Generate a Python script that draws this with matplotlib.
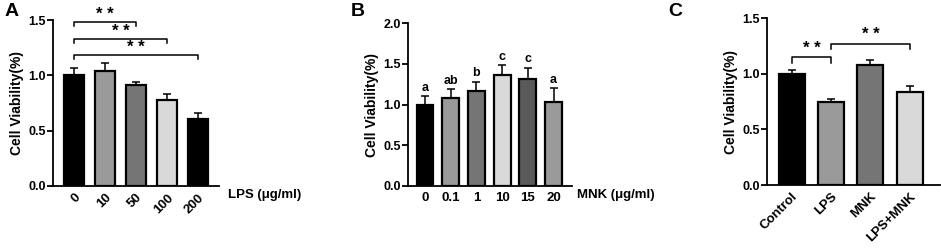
import matplotlib.pyplot as plt

plt.rcParams['font.family'] = ['Liberation Sans', 'DejaVu Sans']
plt.rcParams['font.weight'] = 'bold'

# Panel A: LPS dose
a_labels = ['0', '10', '50', '100', '200']
a_means = [1.00, 1.04, 0.91, 0.78, 0.61]
a_errs = [0.07, 0.07, 0.03, 0.05, 0.05]
a_colors = ['#000000', '#9a9a9a', '#757575', '#d9d9d9', '#000000']

# Panel B: MNK dose
b_labels = ['0', '0.1', '1', '10', '15', '20']
b_means = [1.00, 1.08, 1.17, 1.36, 1.31, 1.03]
b_errs = [0.10, 0.11, 0.11, 0.12, 0.14, 0.17]
b_letters = ['a', 'ab', 'b', 'c', 'c', 'a']
b_colors = ['#000000', '#9a9a9a', '#757575', '#d9d9d9', '#5a5a5a', '#9a9a9a']

# Panel C: treatments
c_labels = ['Control', 'LPS', 'MNK', 'LPS+MNK']
c_means = [1.00, 0.75, 1.08, 0.84]
c_errs = [0.03, 0.02, 0.04, 0.05]
c_colors = ['#000000', '#9a9a9a', '#757575', '#d9d9d9']

fig = plt.figure(figsize=(9.41, 2.48), dpi=100)


def bars(ax, means, errs, colors, width):
    x = list(range(len(means)))
    ax.bar(x, means, width=width, color=colors, edgecolor='black', linewidth=1.6, zorder=2)
    ax.errorbar(x, means, yerr=[[0] * len(errs), errs], fmt='none', ecolor='black',
                elinewidth=1.1, capsize=3.2, capthick=1.1, zorder=1)
    for s in ['top', 'right']:
        ax.spines[s].set_visible(False)
    for s in ['left', 'bottom']:
        ax.spines[s].set_linewidth(1.3)
    ax.tick_params(axis='y', length=4, width=1.3, labelsize=9, pad=1)
    ax.tick_params(axis='x', length=0, labelsize=9.5, pad=4)
    ax.set_ylabel('Cell Viability(%)', fontsize=10, fontweight='bold', labelpad=3)
    return x


def bracket(ax, x0, x1, y, h, txt_y):
    ax.plot([x0, x0, x1, x1], [y - h, y, y, y - h], color='black', lw=1.1, clip_on=False)
    ax.text((x0 + x1) / 2, txt_y, '* *', ha='center', va='center', fontsize=12, fontweight='bold')


# A
axA = fig.add_axes([0.0563, 0.25, 0.1764, 0.669])
x = bars(axA, a_means, a_errs, a_colors, 0.65)
axA.set_xlim(-0.68, 4.68)
axA.set_ylim(0, 1.5)
axA.set_yticks([0, 0.5, 1.0, 1.5])
axA.set_yticklabels(['0.0', '0.5', '1.0', '1.5'])
axA.set_xticks(x)
axA.set_xticklabels(a_labels, rotation=45, ha='right', rotation_mode='anchor')
bracket(axA, 0, 2, 1.48, 0.035, 1.55)
bracket(axA, 0, 3, 1.33, 0.035, 1.40)
bracket(axA, 0, 4, 1.18, 0.035, 1.25)
fig.text(228 / 941, 1 - 195 / 248, 'LPS (μg/ml)', fontsize=9.5, fontweight='bold', va='center')
fig.text(5 / 941, 1 - 12 / 248, 'A', fontsize=14, fontweight='bold', va='center')

# B
axB = fig.add_axes([0.4336, 0.25, 0.1743, 0.657])
x = bars(axB, b_means, b_errs, b_colors, 0.66)
axB.set_xlim(-0.66, 5.72)
axB.set_ylim(0, 2.0)
axB.set_yticks([0, 0.5, 1.0, 1.5, 2.0])
axB.set_yticklabels(['0.0', '0.5', '1.0', '1.5', '2.0'])
axB.set_xticks(x)
axB.set_xticklabels(b_labels)
for xi, m, e, t in zip(x, b_means, b_errs, b_letters):
    axB.text(xi, m + e + 0.03, t, ha='center', va='bottom', fontsize=9, fontweight='bold')
fig.text(577 / 941, 1 - 195 / 248, 'MNK (μg/ml)', fontsize=9.5, fontweight='bold', va='center')
fig.text(351 / 941, 1 - 12 / 248, 'B', fontsize=14, fontweight='bold', va='center')

# C
axC = fig.add_axes([0.815, 0.254, 0.184, 0.673])
x = bars(axC, c_means, c_errs, c_colors, 0.66)
axC.set_xlim(-0.63, 3.77)
axC.set_ylim(0, 1.5)
axC.set_yticks([0, 0.5, 1.0, 1.5])
axC.set_yticklabels(['0.0', '0.5', '1.0', '1.5'])
axC.set_xticks(x)
axC.set_xticklabels(c_labels, rotation=45, ha='right', rotation_mode='anchor')
bracket(axC, 0, 1, 1.15, 0.05, 1.23)
bracket(axC, 1, 3, 1.27, 0.05, 1.35)
fig.text(668 / 941, 1 - 12 / 248, 'C', fontsize=14, fontweight='bold', va='center')

fig.savefig('out.png', dpi=100)
